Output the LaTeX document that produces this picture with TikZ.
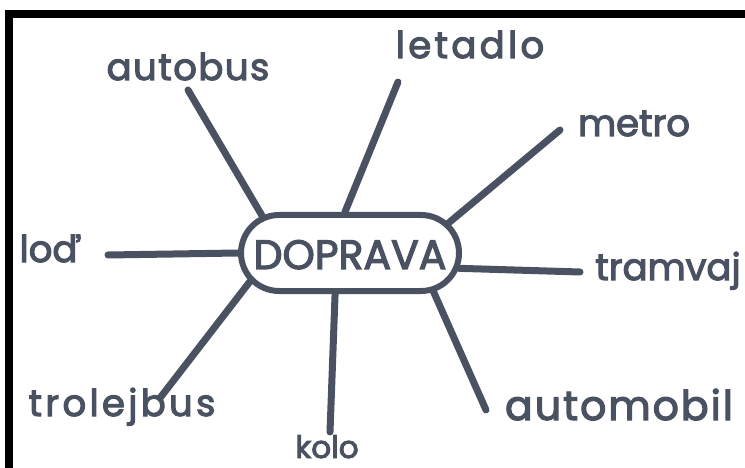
\documentclass[tikz,border=0pt]{standalone}
\usepackage{fontspec}
\setmainfont{Poppins}
\newfontfamily\hand{Poppins}[FakeBold=3]
\usetikzlibrary{shapes.misc}
\definecolor{ink}{RGB}{74,82,98}
\tikzset{
  ink line/.style={draw=ink, line width=7pt, line cap=round},
  label text/.style={text=ink, font=\hand\fontsize{37}{37}\selectfont, anchor=base, inner sep=0pt},
  hub/.style={rounded rectangle, draw=ink, line width=6pt, minimum width=218pt, minimum height=76pt, inner sep=0pt}
}
\begin{document}
\begin{tikzpicture}[x=1pt,y=-1pt]
\useasboundingbox (0,0) rectangle (745,468);
\fill[black] (5,10) rectangle (745,18);
\fill[black] (5,10) rectangle (13,468);
% hub
\node[hub] (dop) at (350,253) {};
\node[text=ink, font=\hand\fontsize{41}{41}\selectfont, anchor=base, inner sep=0pt] (doptext) at (350,269) {DOPRAVA};
% labels
\node[label text] (autobus) at (188,80) {\addfontfeature{LetterSpace=4}autobus};
\node[label text] (letadlo) at (470,58) {\addfontfeature{LetterSpace=9}letadlo};
\node[label text] (metro) at (634,136) {metro};
\node[label text] (tramvaj) at (668,280) {tramvaj};
\node[label text, font=\hand\fontsize{41}{41}\selectfont] (automobil) at (619,420) {\addfontfeature{LetterSpace=5}automobil};
\node[label text, font=\hand\fontsize{31}{31}\selectfont] (kolo) at (327,458) {kolo};
\node[label text] (trolejbus) at (122,416) {\addfontfeature{LetterSpace=9}trolejbus};
\node[label text] (lod) at (50,262) {loď};
% free ends
\coordinate (e-autobus) at (188,90);
\coordinate (e-letadlo) at (398,82);
\coordinate (e-metro) at (560,130);
\coordinate (e-tramvaj) at (580,272);
\coordinate (e-automobil) at (486,410);
\coordinate (e-kolo) at (330,432);
\coordinate (e-trolejbus) at (160,398);
\coordinate (e-lod) at (108,255);
% connectors
\draw[ink line] (e-autobus) -- (dop.157);
\draw[ink line] (e-letadlo) -- (dop.97);
\draw[ink line] (e-metro) -- (dop.17);
\draw[ink line] (e-tramvaj) -- (dop.-8);
\draw[ink line] (e-automobil) -- (dop.-25);
\draw[ink line] (e-kolo) -- (dop.-110);
\draw[ink line] (e-trolejbus) -- (dop.196);
\draw[ink line] (e-lod) -- (dop.180);
\end{tikzpicture}
\end{document}
